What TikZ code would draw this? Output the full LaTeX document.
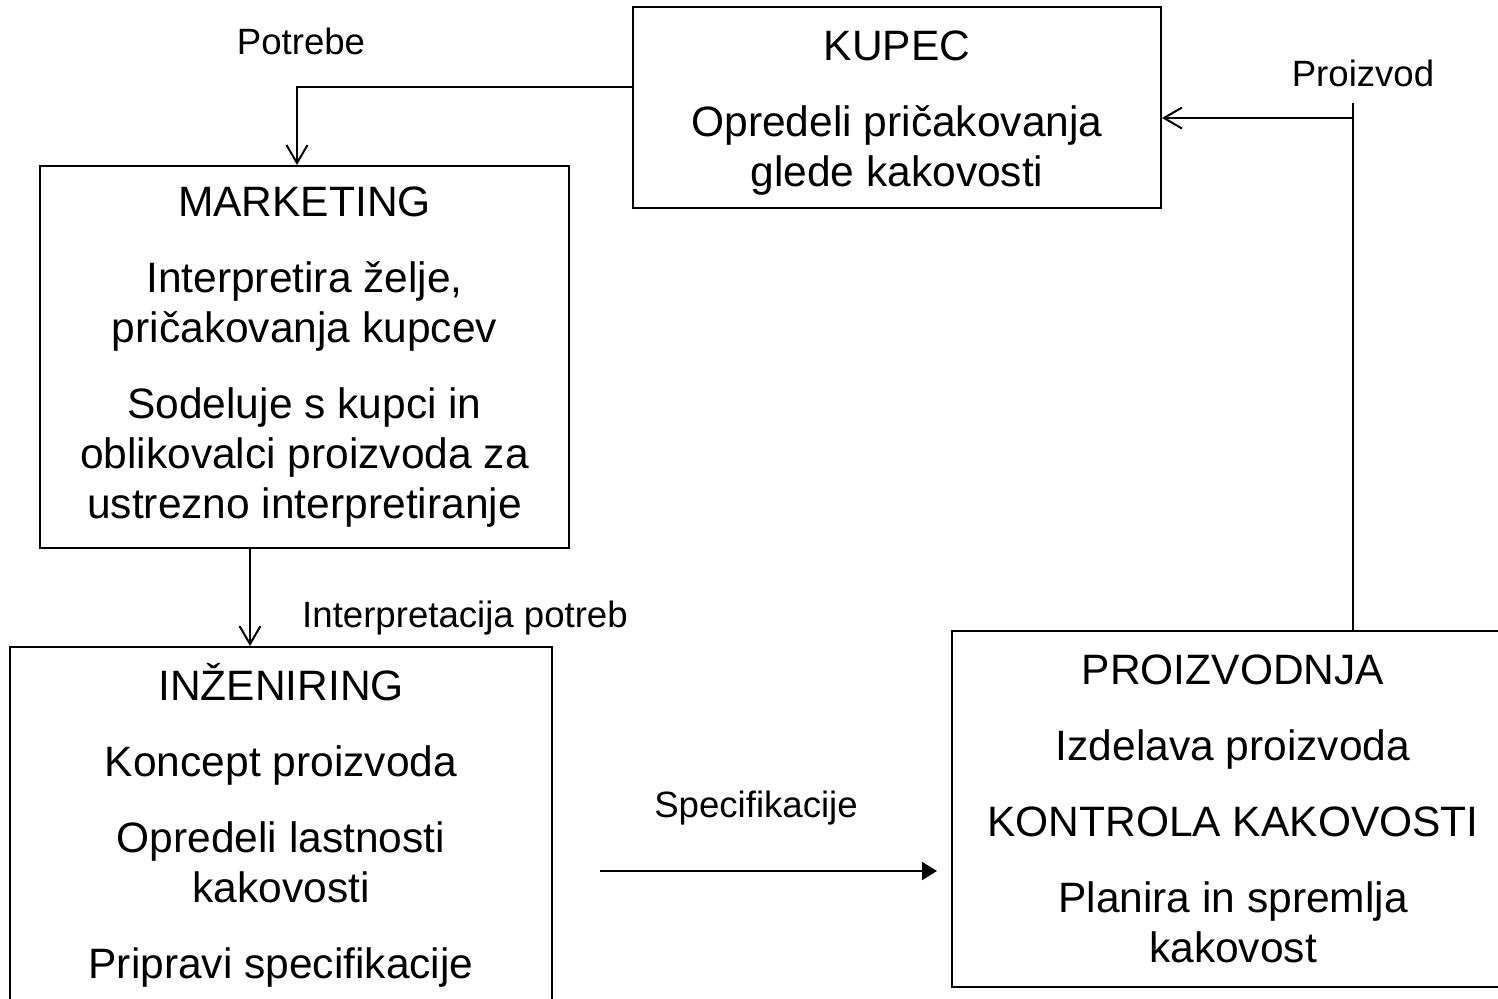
\documentclass[tikz,border=0pt]{standalone}
\usepackage{fontspec}
\setmainfont{Liberation Sans}
\usetikzlibrary{arrows.meta}

\begin{document}
\begin{tikzpicture}[x=0.5pt,y=-0.5pt,
    blok/.style={draw=black, line width=1pt, align=center, inner sep=0pt,
                 font=\fontsize{21.25}{25}\selectfont},
    lbl/.style={inner sep=0pt, font=\fontsize{18.3}{21}\selectfont},
    plainline/.style={draw=black, line width=1pt},
    openarrow/.style={plainline, -{Straight Barb[length=9pt,width=10.5pt]}},
    fullarrow/.style={plainline, -{Triangle[length=7.5pt,width=9pt]}}]

    \useasboundingbox (0,0) rectangle (1498,998);
    \clip (0,0) rectangle (1498,998);

    % boxes
    \node[blok, minimum width=264pt, minimum height=100.5pt] (kupec) at (897,107.5)
        {\rule{0pt}{20pt}KUPEC\\[13pt]Opredeli pričakovanja\\glede kakovosti};
    \node[blok, minimum width=264.5pt, minimum height=191pt] (marketing) at (304.5,357)
        {MARKETING\\[13pt]Interpretira želje,\\pričakovanja kupcev\\[13pt]Sodeluje s kupci in\\oblikovalci proizvoda za\\ustrezno interpretiranje};
    \node[blok, minimum width=271pt, minimum height=178pt] (inzeniring) at (281,825)
        {INŽENIRING\\[13pt]Koncept proizvoda\\[13pt]Opredeli lastnosti\\kakovosti\\[13pt]Pripravi specifikacije};
    \node[blok, minimum width=281pt, minimum height=178pt] (proizvodnja) at (1233,809)
        {PROIZVODNJA\\[13pt]Izdelava proizvoda\\[13pt]KONTROLA KAKOVOSTI\\[13pt]Planira in spremlja\\kakovost};

    % labels
    \node[lbl] (potrebe) at (301,41) {Potrebe};
    \node[lbl] (proizvod) at (1363,73) {Proizvod};
    \node[lbl] (interp) at (465,618) {Interpretacija potreb};
    \node[lbl] (spec) at (756,808) {Specifikacije};

    \coordinate (pbend) at (297,87);
    \coordinate (ix) at (250,0);
    \coordinate (sstart) at (600,871);
    \coordinate (ptop) at (1353,103);
    \coordinate (pjoin) at (1353,118);

    % connectors
    \draw[openarrow] (kupec.west |- pbend) -- (pbend) -- (pbend |- marketing.north);
    \draw[openarrow] (ix |- marketing.south) -- (ix |- inzeniring.north);
    \draw[fullarrow, shorten >=7pt] (sstart) -- (sstart -| proizvodnja.west);
    \draw[plainline] (proizvodnja.north -| ptop) -- (ptop);
    \draw[openarrow] (pjoin) -- (pjoin -| kupec.east);

\end{tikzpicture}
\end{document}
